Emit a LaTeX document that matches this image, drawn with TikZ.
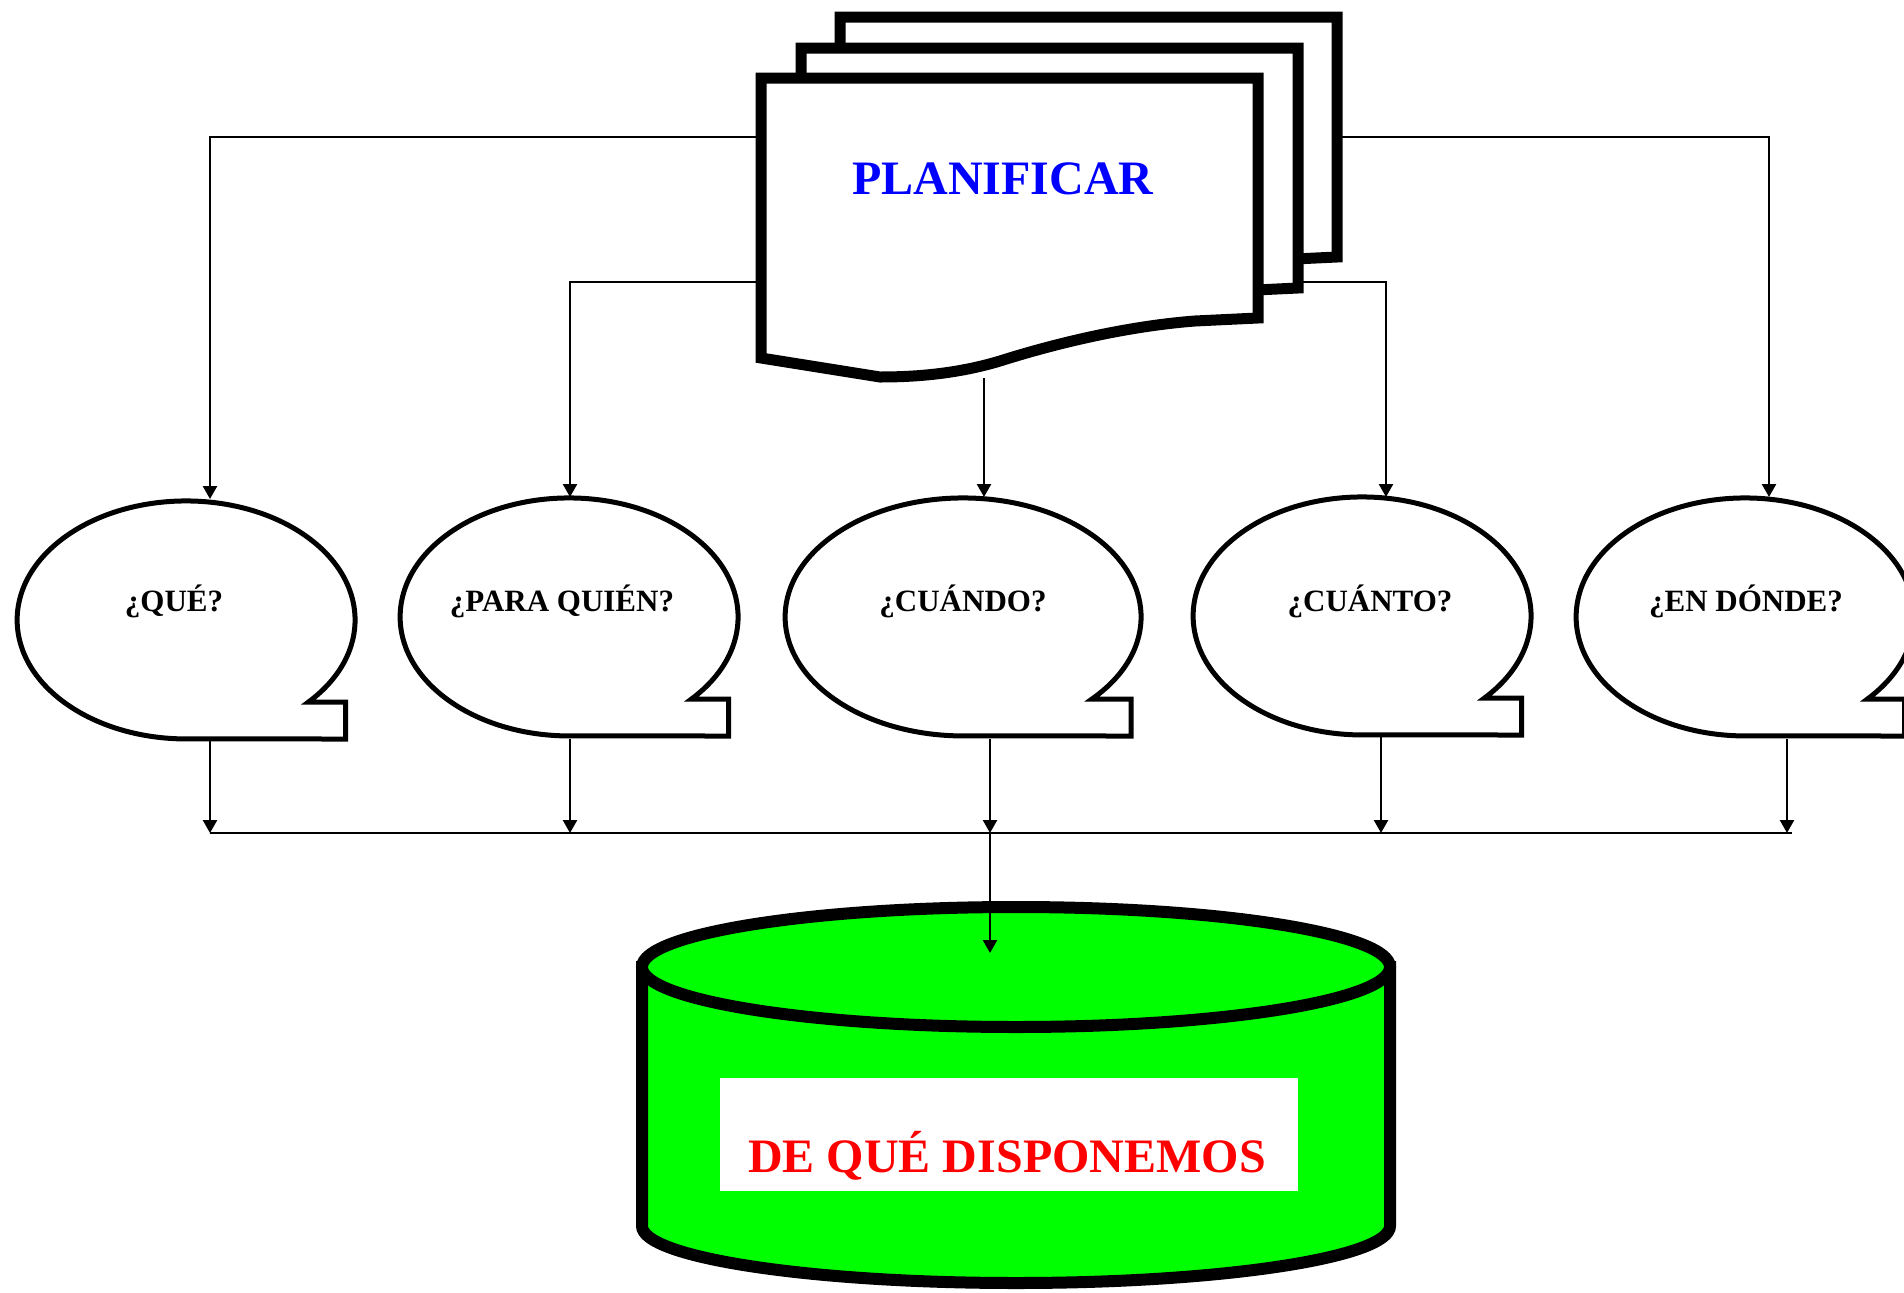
\documentclass[tikz,border=0pt]{standalone}
\usepackage{fontspec}
\setmainfont{Liberation Serif}
\usetikzlibrary{arrows.meta}
\definecolor{cylgreen}{RGB}{0,255,0}
\newcommand\bubblebox[4]{%
  \pgfmathsetmacro\tx{#1+0.945*#3}%
  \pgfmathsetmacro\nx{#1+#3*0.7247}%
  \draw[bubble] (\nx,#2+82) arc[start angle=43.6,end angle=-270,x radius=#3,y radius=119]
     -- (\tx,#2+119) -- (\tx,#2+82) -- cycle;
  \coordinate (#4) at (#1,#2);
}
\begin{document}
\begin{tikzpicture}[x=1pt,y=-1pt,
  conn/.style={line width=2.5pt},
  arr/.style={conn,-{Triangle[length=13pt,width=14pt]}},
  doc/.style={line width=11pt,fill=white,draw=black},
  bubble/.style={line width=5pt,draw=black,fill=white},
  qlabel/.style={font=\bfseries\fontsize{31}{36}\selectfont,anchor=base,inner sep=0pt},
  cyl/.style={line width=12pt,draw=black,fill=cylgreen},
]
\useasboundingbox (0,0) rectangle (1904,1293);
\clip (0,0) rectangle (1904,1293);

% bubbles
\bubblebox{186}{620}{169}{b1}
\bubblebox{569}{617}{169}{b2}
\bubblebox{963}{617}{178}{b3}
\bubblebox{1362}{616}{169}{b4}
\bubblebox{1745}{617}{169}{b5}

\node[qlabel] (q1) at (174,611) {¿QUÉ?};
\node[qlabel] (q2) at (562,611) {¿PARA QUIÉN?};
\node[qlabel] (q3) at (963,611) {¿CUÁNDO?};
\node[qlabel] (q4) at (1370,611) {¿CUÁNTO?};
\node[qlabel] (q5) at (1746,611) {¿EN DÓNDE?};

% connector coordinates
\coordinate (dL1) at (761,137);
\coordinate (dL2) at (761,282);
\coordinate (dR1) at (1339,137);
\coordinate (dR2) at (1297,282);
\coordinate (dB) at (984,378);
\coordinate (t1) at (210,499);
\coordinate (t2) at (570,497);
\coordinate (t3) at (984,497);
\coordinate (t4) at (1386,497);
\coordinate (t5) at (1769,497);
\draw[arr] (dL1) -| (t1);
\draw[arr] (dL2) -| (t2);
\draw[arr] (dB) -- (t3);
\draw[arr] (dR2) -| (t4);
\draw[arr] (dR1) -| (t5);

% bottom connectors
\coordinate (o1) at (210,741);
\coordinate (o2) at (570,739);
\coordinate (o3) at (990,739);
\coordinate (o4) at (1381,737);
\coordinate (o5) at (1787,739);
\coordinate (h1) at (210,833);
\coordinate (h2) at (570,833);
\coordinate (h3) at (990,833);
\coordinate (h4) at (1381,833);
\coordinate (h5) at (1787,833);
\coordinate (hend) at (1792,833);
\draw[arr] (o1) -- (h1);
\draw[arr] (o2) -- (h2);
\draw[arr] (o3) -- (h3);
\draw[arr] (o4) -- (h4);
\draw[arr] (o5) -- (h5);
\draw[conn] (h1) -- (hend);

% documents
\begin{scope}[shift={(79,-61)}]
\draw[doc] (761,78) -- (1258,78) -- (1258,318) -- (1195,321) .. controls (1130,326) and (1060,342) .. (1000,361) .. controls (960,373) and (920,377) .. (880,377) -- (761,358) -- cycle;
\end{scope}
\begin{scope}[shift={(40,-30)}]
\draw[doc] (761,78) -- (1258,78) -- (1258,318) -- (1195,321) .. controls (1130,326) and (1060,342) .. (1000,361) .. controls (960,373) and (920,377) .. (880,377) -- (761,358) -- cycle;
\end{scope}
\draw[doc] (761,78) -- (1258,78) -- (1258,318) -- (1195,321) .. controls (1130,326) and (1060,342) .. (1000,361) .. controls (960,373) and (920,377) .. (880,377) -- (761,358) -- cycle;
\node[font=\bfseries\fontsize{48}{56}\selectfont,text={rgb,255:red,0;green,0;blue,255},anchor=base,inner sep=0pt] (plan) at (1003,194) {PLANIFICAR};

% cylinder
\draw[cyl] (642,967) -- (642,1226) arc[start angle=180,end angle=0,x radius=374,y radius=57] -- (1390,967) -- cycle;
\draw[cyl] (1016,967) ellipse[x radius=374,y radius=60];
\node[fill=white,minimum width=578pt,minimum height=113pt,inner sep=0pt] (box) at (1009,1134.5) {};
\node[font=\bfseries\fontsize{48}{56}\selectfont,text={rgb,255:red,255;green,0;blue,0},anchor=base,inner sep=0pt] (disp) at (1007,1172) {DE QUÉ DISPONEMOS};

\coordinate (cyltop) at (990,953);
\draw[arr] (h3) -- (cyltop);
\end{tikzpicture}
\end{document}
